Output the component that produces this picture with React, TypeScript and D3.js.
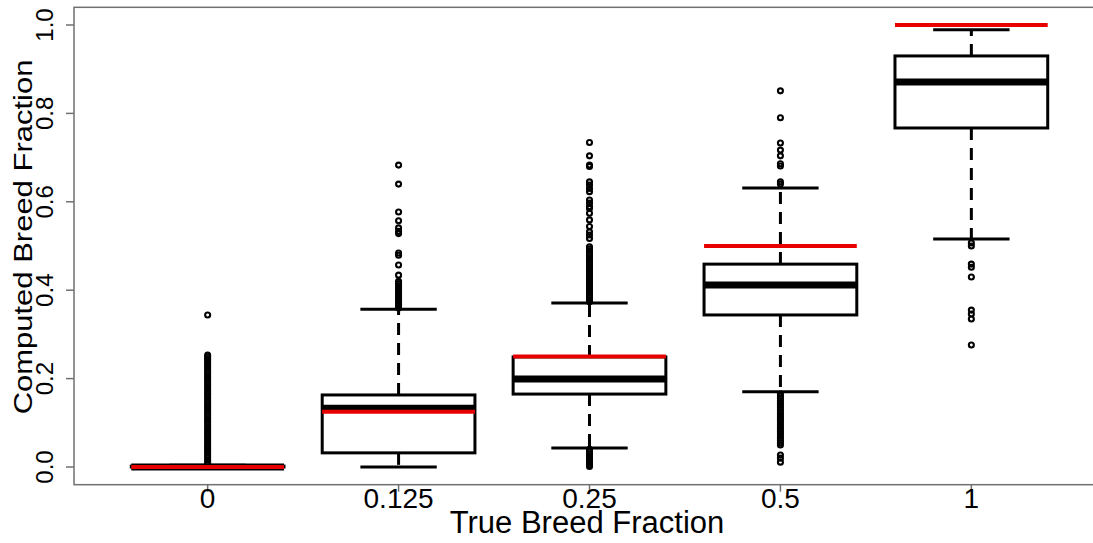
import React from "react";
import * as d3 from "d3";

const categories = ["0", "0.125", "0.25", "0.5", "1"];
const trueValues = [0, 0.125, 0.25, 0.5, 1];
const q1 = [0, 0.032, 0.165, 0.344, 0.767];
const medians = [0, 0.133, 0.199, 0.412, 0.871];
const q3 = [0.002, 0.163, 0.249, 0.459, 0.93];
const whiskerLow = [0, 0, 0.043, 0.17, 0.516];
const whiskerHigh = [0.004, 0.357, 0.371, 0.631, 0.989];

const outliers0 = [
  0.006, 0.011, 0.016, 0.021, 0.026, 0.031, 0.036, 0.041, 0.046, 0.051, 0.056, 0.061,
  0.066, 0.071, 0.076, 0.081, 0.086, 0.091, 0.096, 0.101, 0.106, 0.111, 0.116, 0.121,
  0.126, 0.131, 0.136, 0.141, 0.146, 0.151, 0.156, 0.161, 0.166, 0.171, 0.176, 0.181,
  0.186, 0.191, 0.196, 0.201, 0.206, 0.211, 0.216, 0.221, 0.226, 0.231, 0.236, 0.241,
  0.245, 0.249, 0.253, 0.344,
];
const outliers125 = [
  0.683, 0.64, 0.577, 0.557, 0.541, 0.533, 0.528, 0.484, 0.479, 0.457, 0.434, 0.42,
  0.415, 0.41, 0.405, 0.4, 0.396, 0.392, 0.388, 0.384, 0.38, 0.376, 0.372, 0.368, 0.364, 0.36,
];
const outliers25 = [
  0.734, 0.704, 0.683, 0.68, 0.645, 0.638, 0.63, 0.623, 0.604, 0.597, 0.589, 0.585, 0.574,
  0.559, 0.544, 0.532, 0.525, 0.517, 0.498, 0.493, 0.488, 0.483, 0.478, 0.473, 0.468,
  0.463, 0.458, 0.453, 0.448, 0.443, 0.438, 0.433, 0.428, 0.423, 0.418, 0.413, 0.408,
  0.403, 0.398, 0.393, 0.388, 0.383, 0.378, 0.374,
  0.04, 0.035, 0.03, 0.025, 0.02, 0.015, 0.01, 0.005, 0.001,
];
const outliers5 = [
  0.851, 0.79, 0.733, 0.717, 0.704, 0.686, 0.681, 0.645, 0.64,
  0.165, 0.16, 0.155, 0.15, 0.145, 0.14, 0.135, 0.13, 0.125, 0.12, 0.115, 0.11, 0.105,
  0.1, 0.095, 0.09, 0.085, 0.08, 0.075, 0.07, 0.065, 0.06, 0.055, 0.05, 0.027, 0.02, 0.011,
];
const outliers1 = [0.507, 0.5, 0.459, 0.452, 0.43, 0.355, 0.346, 0.335, 0.276];
const outlierGroups = [outliers0, outliers125, outliers25, outliers5, outliers1];

const yTicks = [0, 0.2, 0.4, 0.6, 0.8, 1.0];

export default function App() {
  const W = 1093;
  const H = 543;
  const x = d3.scaleLinear().domain([0.3, 5.7]).range([74, 1105]);
  const y = d3.scaleLinear().domain([0, 1]).range([467, 25]);
  const yTop = y(1.04);
  const yBot = y(-0.04);
  const boxHalf = 0.4;
  const capHalf = 0.2;
  const font = "'Liberation Sans', Arial, sans-serif";
  const frameColor = "#707070";

  return (
    <svg
      width={W}
      height={H}
      style={{ position: "absolute", left: 0, top: 0, background: "#fff" }}
      fontFamily={font}
    >
      <rect x={0} y={0} width={W} height={H} fill="#fff" />
      {categories.map((c, i) => {
        const p = i + 1;
        const cx = x(p);
        const bl = x(p - boxHalf);
        const br = x(p + boxHalf);
        const dash = "12,8";
        return (
          <g key={c}>
            <line x1={cx} x2={cx} y1={y(q3[i])} y2={y(whiskerHigh[i])} stroke="#000" strokeWidth={3} strokeDasharray={dash} />
            <line x1={cx} x2={cx} y1={y(q1[i])} y2={y(whiskerLow[i])} stroke="#000" strokeWidth={3} strokeDasharray={dash} />
            <line x1={x(p - capHalf)} x2={x(p + capHalf)} y1={y(whiskerHigh[i])} y2={y(whiskerHigh[i])} stroke="#000" strokeWidth={3} />
            <line x1={x(p - capHalf)} x2={x(p + capHalf)} y1={y(whiskerLow[i])} y2={y(whiskerLow[i])} stroke="#000" strokeWidth={3} />
            <rect x={bl} y={y(q3[i])} width={br - bl} height={y(q1[i]) - y(q3[i])} fill="#fff" stroke="#000" strokeWidth={3} />
            <line x1={bl} x2={br} y1={y(medians[i])} y2={y(medians[i])} stroke="#000" strokeWidth={7} />
            {outlierGroups[i].map((v, j) => (
              <circle key={j} cx={cx} cy={y(v)} r={2.5} fill="none" stroke="#000" strokeWidth={2.1} />
            ))}
          </g>
        );
      })}
      {trueValues.map((v, i) => (
        <line key={"t" + i} x1={x(i + 1 - boxHalf)} x2={x(i + 1 + boxHalf)} y1={y(v)} y2={y(v)} stroke="#e80000" strokeWidth={4} />
      ))}
      <rect x={74} y={yTop} width={1105 - 74} height={yBot - yTop} fill="none" stroke={frameColor} strokeWidth={1.5} />
      {yTicks.map((t) => (
        <g key={"y" + t}>
          <line x1={66} x2={74} y1={y(t)} y2={y(t)} stroke={frameColor} strokeWidth={1.5} />
          <text
            transform={`translate(53,${y(t)}) rotate(-90)`}
            textAnchor="middle"
            fontSize={24}
            fill="#000"
          >
            {t.toFixed(1)}
          </text>
        </g>
      ))}
      {categories.map((c, i) => (
        <g key={"x" + c}>
          <line x1={x(i + 1)} x2={x(i + 1)} y1={yBot} y2={yBot + 7} stroke={frameColor} strokeWidth={1.5} />
          <text x={x(i + 1)} y={508} textAnchor="middle" fontSize={28} fill="#000">
            {c}
          </text>
        </g>
      ))}
      <text x={587} y={533} textAnchor="middle" fontSize={31} fill="#000">
        True Breed Fraction
      </text>
      <text
        transform={`translate(32,237) scale(0.85,1) rotate(-90)`}
        textAnchor="middle"
        fontSize={31}
        fill="#000"
      >
        Computed Breed Fraction
      </text>
    </svg>
  );
}
